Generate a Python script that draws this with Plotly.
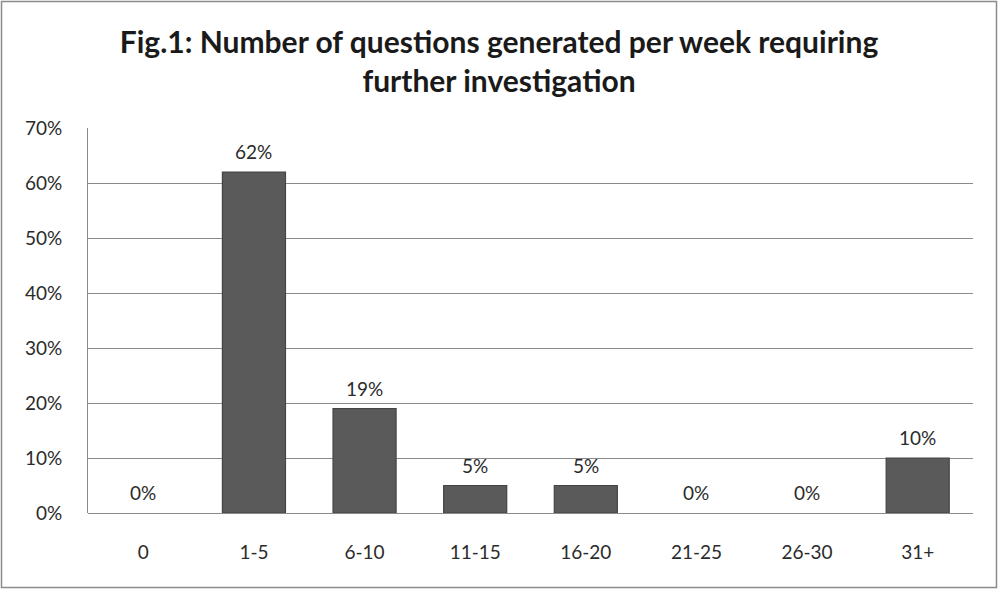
import plotly.graph_objects as go

categories = ["0", "1-5", "6-10", "11-15", "16-20", "21-25", "26-30", "31+"]
shares = [0, 62, 19, 5, 5, 0, 0, 10]  # percent of respondents
y_ticks = [0, 10, 20, 30, 40, 50, 60, 70]
y_tick_labels = [f"{v}%" for v in y_ticks]

W, H = 998, 589
L, R, T, B = 88, 25, 128, 76
pw, ph = W - L - R, H - T - B

font_family = "Lato, 'Open Sans', sans-serif"
text_color = "#2b2b2b"

fig = go.Figure()
fig.add_trace(go.Bar(
    x=categories,
    y=shares,
    width=0.57,
    marker=dict(
        color="#5a5a5a",
        line=dict(color="#444444", width=[0 if v == 0 else 1.2 for v in shares]),
    ),
    hoverinfo="skip",
))

annotations = []
for cat, val in zip(categories, shares):
    annotations.append(dict(
        x=cat, y=val, xref="x", yref="y",
        text=f"{val}%", showarrow=False,
        yanchor="bottom", yshift=7,
        font=dict(family=font_family, size=19, color=text_color),
    ))

fig.update_layout(
    width=W, height=H,
    margin=dict(l=L, r=R, t=T, b=B, pad=0),
    paper_bgcolor="white",
    plot_bgcolor="white",
    showlegend=False,
    bargap=0.43,
    title=dict(
        text="Fig.1: Number of questions generated per week requiring<br>further investigation",
        x=0.5, xanchor="center",
        y=1 - 53 / H, yanchor="middle",
        font=dict(family=font_family, size=30, color="#1a1a1a", weight="bold"),
    ),
    annotations=annotations,
    xaxis=dict(
        type="category",
        showgrid=False,
        showline=False,
        ticks="",
        ticklabelstandoff=26,
        tickfont=dict(family=font_family, size=19, color=text_color),
    ),
    yaxis=dict(
        range=[0, 70],
        tickvals=y_ticks,
        ticktext=y_tick_labels,
        showgrid=True,
        gridcolor="#8a8a8a",
        gridwidth=1,
        zeroline=True,
        zerolinecolor="#8a8a8a",
        zerolinewidth=1,
        showline=True,
        linecolor="#8a8a8a",
        linewidth=1,
        ticks="",
        ticklabelstandoff=21,
        tickfont=dict(family=font_family, size=19, color=text_color),
    ),
    shapes=[dict(
        type="rect", xref="paper", yref="paper",
        x0=-(L - 1.5) / pw, x1=1 + (R - 1.5) / pw,
        y0=-(B - 1.5) / ph, y1=1 + (T - 1.5) / ph,
        line=dict(color="#8c8c8c", width=1.5),
        fillcolor="rgba(0,0,0,0)",
        layer="below",
    )],
)

fig.write_html("out.html")
